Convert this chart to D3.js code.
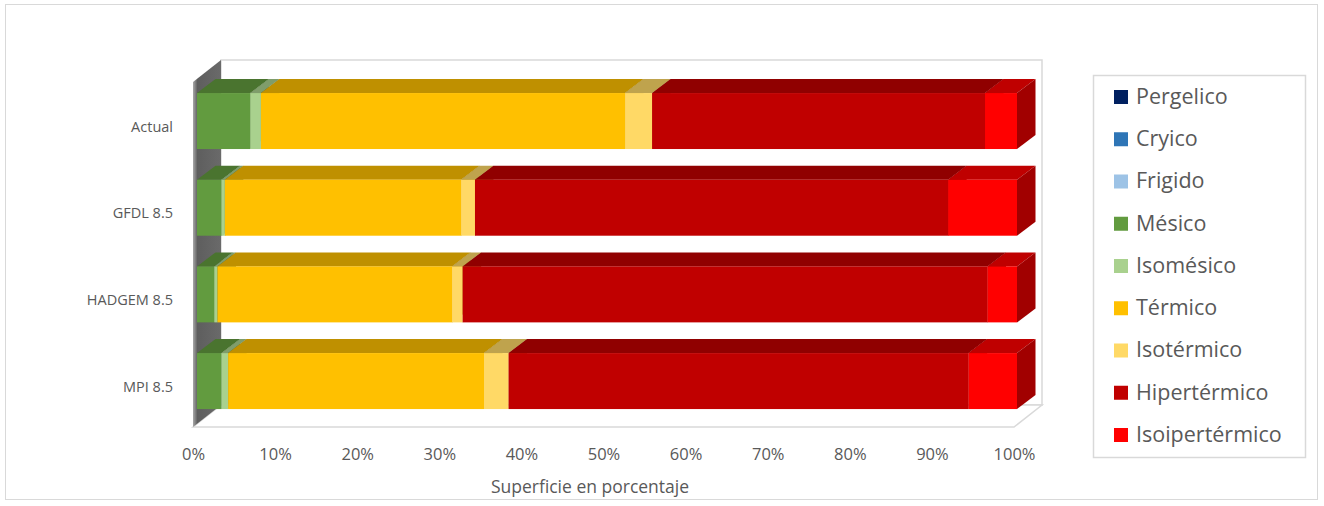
<!DOCTYPE html>
<html>
<head>
<meta charset="utf-8">
<script src="https://cdn.jsdelivr.net/npm/d3@7"></script>
<style>
  html, body { margin: 0; padding: 0; background: #ffffff; }
  svg { display: block; }
  text { font-family: "Open Sans", "Noto Sans", sans-serif; fill: #595959; }
</style>
</head>
<body>
<svg id="chart" width="1324" height="506"></svg>
<script>
// ---------------- DATA ----------------
const categories = ["Actual", "GFDL 8.5", "HADGEM 8.5", "MPI 8.5"];
const seriesNames = ["Pergelico", "Cryico", "Frigido", "Mésico", "Isomésico",
                     "Térmico", "Isotérmico", "Hipertérmico", "Isoipertérmico"];
const pergelico      = [0, 0, 0, 0];
const cryico         = [0, 0, 0, 0];
const frigido        = [0, 0, 0, 0];
const mesico         = [6.5, 3.0, 2.1, 3.0];
const isomesico      = [1.3, 0.4, 0.4, 0.8];
const termico        = [44.4, 28.8, 28.6, 31.2];
const isotermico     = [3.3, 1.7, 1.3, 3.0];
const hipertermico   = [40.6, 57.7, 64.0, 56.1];
const isoipertermico = [3.9, 8.4, 3.6, 5.9];
const seriesColors = ["#002060", "#2E75B6", "#9DC3E6", "#629B3F", "#A9D18E",
                      "#FFC000", "#FFD966", "#C00000", "#FF0000"];
const xTickValues = [0, 0.1, 0.2, 0.3, 0.4, 0.5, 0.6, 0.7, 0.8, 0.9, 1.0];
const xAxisTitle = "Superficie en porcentaje";

// ---------------- BUILD TABLE ----------------
const seriesValues = [pergelico, cryico, frigido, mesico, isomesico,
                      termico, isotermico, hipertermico, isoipertermico];
const table = categories.map((c, i) => {
  const row = { category: c };
  seriesNames.forEach((s, j) => { row[s] = seriesValues[j][i]; });
  return row;
});
const stacked = d3.stack().keys(seriesNames).offset(d3.stackOffsetExpand)(table);

// ---------------- LAYOUT ----------------
const svg = d3.select("#chart");

// outer border
svg.append("rect").attr("x", 5.5).attr("y", 4.5).attr("width", 1312).attr("height", 495)
  .attr("fill", "#fff").attr("stroke", "#d9d9d9").attr("stroke-width", 1);

// 3D geometry
const wallDX = 28, wallDY = 22;     // wall depth
const barDX = 18.5, barDY = 14;     // bar depth
const plotFrontLeft = 193, plotFrontRight = 1014;
const backTop = 60, backBottom = 405;

const x = d3.scaleLinear().domain([0, 1]).range([197, 1017]);
const xFloor = d3.scaleLinear().domain([0, 1]).range([plotFrontLeft, plotFrontRight]);
const y = d3.scaleBand().domain(categories).range([77.7, 424.4])
  .paddingInner(0.354).paddingOuter(0.177);

const defs = svg.append("defs");
const grad = defs.append("linearGradient").attr("id", "wallGrad")
  .attr("x1", "0%").attr("x2", "100%").attr("y1", "0%").attr("y2", "0%");
grad.append("stop").attr("offset", "0%").attr("stop-color", "#a8a8a8");
grad.append("stop").attr("offset", "16%").attr("stop-color", "#5e5e5e");
grad.append("stop").attr("offset", "100%").attr("stop-color", "#6a6a6a");

// back wall
svg.append("rect")
  .attr("x", plotFrontLeft + wallDX).attr("y", backTop)
  .attr("width", plotFrontRight - plotFrontLeft)
  .attr("height", backBottom - backTop)
  .attr("fill", "#fff").attr("stroke", "#d9d9d9").attr("stroke-width", 1.5);

// floor
const floorFront = backBottom + wallDY;
svg.append("polygon")
  .attr("points", [
    [plotFrontLeft, floorFront], [plotFrontLeft + wallDX, backBottom],
    [plotFrontRight + wallDX, backBottom], [plotFrontRight, floorFront]
  ].map(p => p.join(",")).join(" "))
  .attr("fill", "#fff").attr("stroke", "#d9d9d9").attr("stroke-width", 1.5);

// left side wall
svg.append("polygon")
  .attr("points", [
    [plotFrontLeft, backTop + wallDY], [plotFrontLeft + wallDX, backTop],
    [plotFrontLeft + wallDX, backBottom], [plotFrontLeft, floorFront]
  ].map(p => p.join(",")).join(" "))
  .attr("fill", "url(#wallGrad)");

// ---------------- BARS ----------------
const barsG = svg.append("g");
categories.forEach((cat, ci) => {
  const y0 = y(cat), bh = y.bandwidth();
  stacked.forEach((layer, si) => {
    const d = layer[ci];
    const xa = x(d[0]), xb = x(d[1]);
    if (xb - xa <= 0.01) return;
    const base = d3.color(seriesColors[si]);
    const topCol = d3.rgb(base.r * 0.75, base.g * 0.75, base.b * 0.75);
    const sideCol = d3.rgb(base.r * 0.63, base.g * 0.63, base.b * 0.63);
    barsG.append("polygon")
      .attr("points", [[xa, y0], [xa + barDX, y0 - barDY], [xb + barDX, y0 - barDY], [xb, y0]]
        .map(p => p.join(",")).join(" "))
      .attr("fill", topCol);
    barsG.append("polygon")
      .attr("points", [[xb, y0], [xb + barDX, y0 - barDY], [xb + barDX, y0 + bh - barDY], [xb, y0 + bh]]
        .map(p => p.join(",")).join(" "))
      .attr("fill", sideCol);
    barsG.append("rect")
      .attr("x", xa).attr("y", y0).attr("width", xb - xa).attr("height", bh)
      .attr("fill", seriesColors[si]);
  });
});

// ---------------- AXES ----------------
const xAxis = d3.axisBottom(xFloor).tickValues(xTickValues)
  .tickFormat(d3.format(".0%")).tickSize(0).tickPadding(0);
const xg = svg.append("g").attr("transform", "translate(0, 448)").call(xAxis);
xg.select(".domain").remove();
xg.selectAll("text").attr("font-size", 16.5).attr("fill", "#595959")
  .style("font-family", "'Open Sans', sans-serif");

svg.append("text").attr("x", 590).attr("y", 488)
  .attr("text-anchor", "middle").attr("dominant-baseline", "middle")
  .attr("font-size", 17.5).text(xAxisTitle);

// category labels
const yAxis = d3.axisLeft(y).tickSize(0).tickPadding(0);
const yg = svg.append("g").attr("transform", "translate(173, 6)").call(yAxis);
yg.select(".domain").remove();
yg.selectAll("text").attr("font-size", 14.5).attr("fill", "#595959")
  .style("font-family", "'Open Sans', sans-serif");

// ---------------- LEGEND ----------------
svg.append("rect").attr("x", 1093.5).attr("y", 75.5).attr("width", 212).attr("height", 382)
  .attr("fill", "#fff").attr("stroke", "#d9d9d9").attr("stroke-width", 1.5);
const legendY = d3.scalePoint().domain(seriesNames).range([97, 435]);
const lg = svg.append("g");
seriesNames.forEach((s, i) => {
  const cy = legendY(s);
  lg.append("rect").attr("x", 1114).attr("y", cy - 7).attr("width", 14).attr("height", 14)
    .attr("fill", seriesColors[i]);
  lg.append("text").attr("x", 1136).attr("y", cy + 1)
    .attr("dominant-baseline", "middle").attr("font-size", 21.5).text(s);
});
</script>
</body>
</html>
